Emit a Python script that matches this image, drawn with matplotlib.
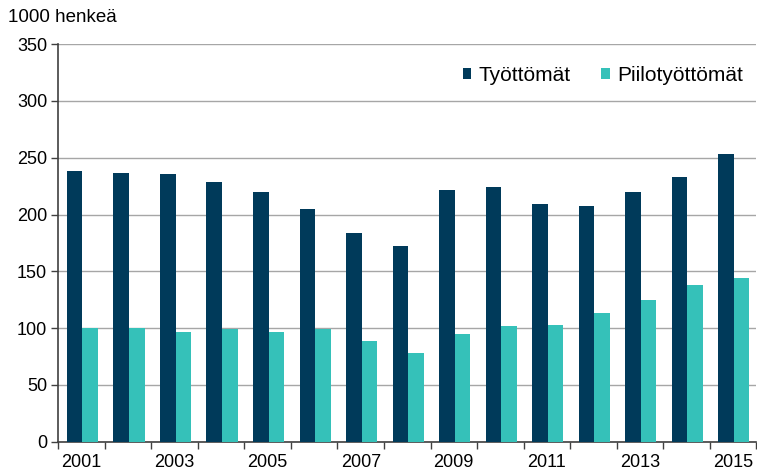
import numpy as np
import matplotlib
matplotlib.use("Agg")
import matplotlib.pyplot as plt

plt.rcParams['font.family'] = ['Liberation Sans', 'DejaVu Sans']

years = list(range(2001, 2016))
tyottomat = [238, 237, 236, 229, 220, 205, 184, 172, 222, 224, 209, 208, 220, 233, 253]
piilotyottomat = [100, 100, 97, 99, 97, 99, 89, 78, 95, 102, 103, 113, 125, 138, 144]
year_labels = [str(y) if y % 2 == 1 else "" for y in years]

dark = '#003a5a'
teal = '#35c1b9'

fig = plt.figure(figsize=(7.57, 4.70), dpi=100)
ax = fig.add_axes([0.077, 0.06, 0.922, 0.846])

x = np.arange(len(years))
w = 0.335
ax.bar(x - w / 2 + 0.02, tyottomat, width=w, color=dark, label='Työttömät', zorder=3)
ax.bar(x + w / 2 + 0.02, piilotyottomat, width=w, color=teal, label='Piilotyöttömät', zorder=3)

ax.set_ylim(0, 350)
ax.set_yticks(range(0, 351, 50))
ax.set_xlim(-0.5, len(years) - 0.5)
ax.yaxis.grid(True, color='#a6a6a6', linewidth=1.0, zorder=0)

# category boundary ticks, labels in the middle
ax.set_xticks(np.arange(-0.5, len(years), 1.0))
ax.set_xticklabels([])
ax.set_xticks(x, minor=True)
ax.set_xticklabels(year_labels, minor=True)
ax.tick_params(axis='x', which='major', length=5, width=1, color='#404040', direction='out')
ax.tick_params(axis='x', which='minor', length=0, pad=9, labelsize=13)
ax.tick_params(axis='y', length=5, width=1, color='#404040', direction='out', labelsize=13, pad=3)

for s in ['top', 'right']:
    ax.spines[s].set_visible(False)
for s in ['left', 'bottom']:
    ax.spines[s].set_color('#404040')
    ax.spines[s].set_linewidth(1.2)

leg = ax.legend(loc='center right', bbox_to_anchor=(0.981, 0.922), ncol=2, frameon=False,
                fontsize=15, handlelength=0.42, handleheight=0.42, handletextpad=0.35,
                columnspacing=1.45, borderaxespad=0, borderpad=0)

fig.text(0.01, 0.962, '1000 henkeä', fontsize=13.5, va='center', ha='left')

fig.savefig('out.png', dpi=100)
